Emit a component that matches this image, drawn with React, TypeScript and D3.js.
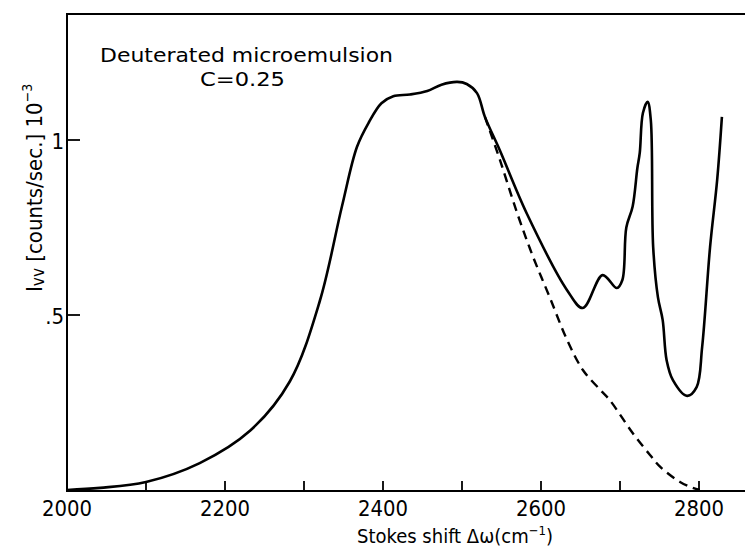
import { useEffect, useRef } from "react";
import * as d3 from "d3";

// solid curve (Stokes shift in cm^-1, intensity in 10^3 counts/sec)
const solidShift = [2000, 2042, 2100, 2168, 2232, 2282, 2320, 2348, 2367, 2382, 2398, 2413, 2434, 2456, 2474, 2494, 2506, 2519, 2529, 2548, 2582, 2633, 2653, 2678, 2696, 2703, 2708, 2716, 2722, 2725, 2729, 2735, 2739, 2742, 2748, 2754, 2759, 2767, 2785, 2797, 2804, 2814, 2823, 2829];
const solidI = [0, 0.006, 0.023, 0.077, 0.17, 0.31, 0.54, 0.81, 0.98, 1.05, 1.105, 1.125, 1.13, 1.14, 1.158, 1.166, 1.16, 1.134, 1.066, 0.97, 0.79, 0.571, 0.52, 0.614, 0.577, 0.6, 0.75, 0.81, 0.92, 0.963, 1.077, 1.109, 1.057, 0.694, 0.551, 0.486, 0.371, 0.314, 0.269, 0.294, 0.409, 0.694, 0.886, 1.066];

// dashed curve (background subtracted)
const dashedShift = [2529, 2548, 2570, 2590, 2611, 2633, 2653, 2675, 2687, 2716, 2738, 2751, 2776, 2792, 2801];
const dashedI = [1.066, 0.943, 0.79, 0.666, 0.551, 0.429, 0.343, 0.286, 0.257, 0.163, 0.1, 0.066, 0.023, 0.006, 0];

const xTicks = [2100, 2200, 2300, 2400, 2500, 2600, 2700, 2800];
const xLabels = [2000, 2200, 2400, 2600, 2800];
const yTicks = [0.5, 1];
const yLabels = [".5", "1"];

const FONT = "'Liberation Sans Narrow', 'DejaVu Sans Condensed', 'DejaVu Sans', sans-serif";

export default function App() {
  const ref = useRef<SVGSVGElement>(null);

  useEffect(() => {
    const svg = d3.select(ref.current);
    svg.selectAll("*").remove();

    const width = 745;
    const left = 67;
    const top = 14;
    const bottom = 491;

    const x = d3.scaleLinear().domain([2000, 2800]).range([67, 699]);
    const y = d3.scaleLinear().domain([0, 1]).range([490, 140]);

    // frame: top, left and bottom only
    svg
      .append("path")
      .attr("d", `M${width},${top}H${left}V${bottom}H${width}`)
      .attr("fill", "none")
      .attr("stroke", "#000")
      .attr("stroke-width", 2);

    svg
      .append("g")
      .selectAll("line")
      .data(xTicks)
      .join("line")
      .attr("x1", (d) => x(d))
      .attr("x2", (d) => x(d))
      .attr("y1", bottom)
      .attr("y2", bottom - 10)
      .attr("stroke", "#000")
      .attr("stroke-width", 1.8);

    svg
      .append("g")
      .selectAll("line")
      .data(yTicks)
      .join("line")
      .attr("x1", left)
      .attr("x2", left + 13)
      .attr("y1", (d) => y(d))
      .attr("y2", (d) => y(d))
      .attr("stroke", "#000")
      .attr("stroke-width", 1.8);

    svg
      .append("g")
      .attr("font-family", FONT)
      .attr("font-size", 21)
      .attr("text-anchor", "middle")
      .selectAll("text")
      .data(xLabels)
      .join("text")
      .attr("x", (d) => x(d))
      .attr("y", 516)
      .attr("textLength", 50)
      .attr("lengthAdjust", "spacingAndGlyphs")
      .text((d) => d);

    svg
      .append("g")
      .attr("font-family", FONT)
      .attr("font-size", 22)
      .attr("text-anchor", "end")
      .selectAll("text")
      .data(yTicks)
      .join("text")
      .attr("x", 64)
      .attr("y", (d) => y(d) + 9)
      .text((d, i) => yLabels[i]);

    const line = d3
      .line<number>()
      .x((d) => x(d))
      .curve(d3.curveCatmullRom.alpha(0.5));

    svg
      .append("path")
      .attr("fill", "none")
      .attr("stroke", "#000")
      .attr("stroke-width", 2.6)
      .attr("stroke-linejoin", "round")
      .attr("d", line.y((d, i) => y(solidI[i]))(solidShift));

    svg
      .append("path")
      .attr("fill", "none")
      .attr("stroke", "#000")
      .attr("stroke-width", 2.4)
      .attr("stroke-dasharray", "9,6")
      .attr("d", line.y((d, i) => y(dashedI[i]))(dashedShift));

    const note = svg.append("g").attr("font-family", FONT).attr("font-size", 20);
    note
      .append("text")
      .attr("x", 100)
      .attr("y", 62)
      .attr("textLength", 293)
      .attr("lengthAdjust", "spacingAndGlyphs")
      .text("Deuterated  microemulsion");
    note
      .append("text")
      .attr("x", 200)
      .attr("y", 86)
      .attr("textLength", 85)
      .attr("lengthAdjust", "spacingAndGlyphs")
      .text("C=0.25");

    const xl = svg
      .append("text")
      .attr("font-family", FONT)
      .attr("font-size", 20)
      .attr("x", 357)
      .attr("y", 543);
    xl.append("tspan").text("Stokes  shift Δω(cm");
    xl.append("tspan").attr("font-size", 13).attr("dy", -8).text("−1");
    xl.append("tspan").attr("dy", 8).text(")");

    const yl = svg
      .append("text")
      .attr("font-family", FONT)
      .attr("font-size", 22)
      .attr("transform", "translate(42,292) rotate(-90)");
    yl.append("tspan").text("I");
    yl.append("tspan").attr("font-size", 17).attr("dy", 2).text("vv");
    yl.append("tspan").attr("dy", -2).text(" [counts/sec.] 10");
    yl.append("tspan").attr("font-size", 14).attr("dy", -10).text("−3");
  }, []);

  return <svg ref={ref} width={745} height={548} style={{ position: "absolute", left: 0, top: 0, background: "#fff" }} />;
}
